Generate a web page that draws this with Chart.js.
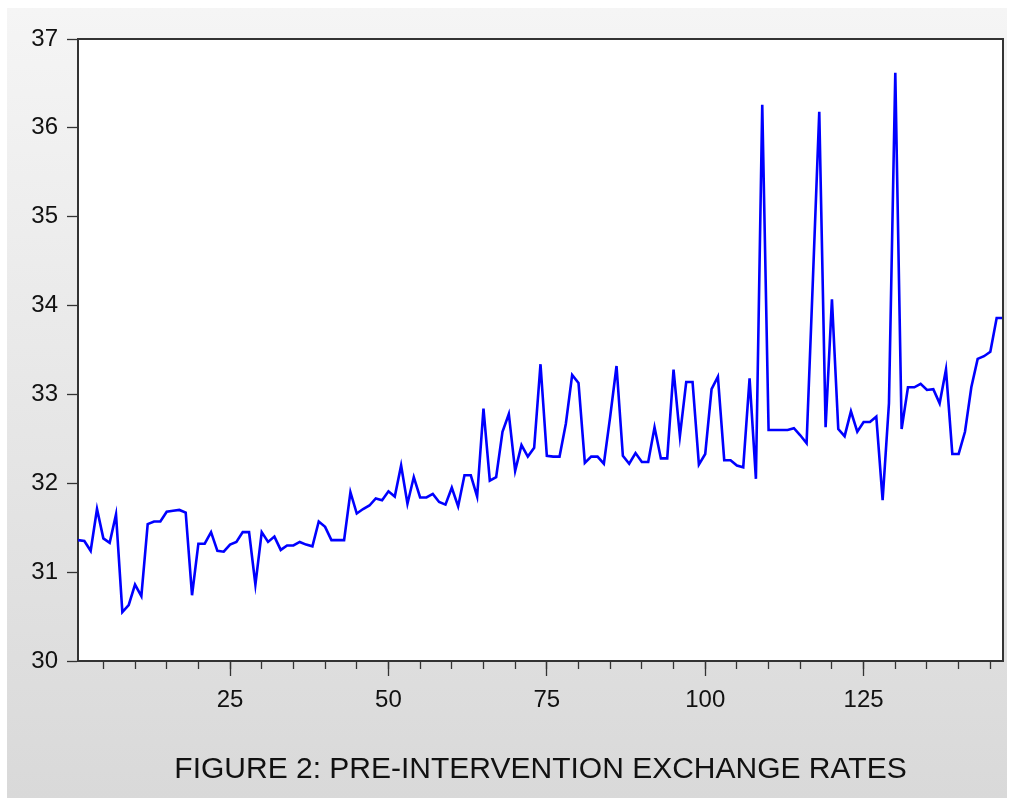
<!DOCTYPE html>
<html>
<head>
<meta charset="utf-8">
<script src="https://cdn.jsdelivr.net/npm/chart.js@4.4.1/dist/chart.umd.min.js"></script>
<style>
  html, body { margin: 0; padding: 0; background: #ffffff; }
  #wrap { position: relative; width: 1010px; height: 798px; }
</style>
</head>
<body>
<div id="wrap"><canvas id="c" width="1010" height="798"></canvas></div>
<script>
// Observation numbers (1..147)
const observations = Array.from({ length: 147 }, (_, i) => i + 1);

// Exchange rate values
const exchangeRates = [
  31.36, 31.35, 31.24, 31.71, 31.38, 31.33, 31.65, 30.55, 30.63, 30.86,
  30.73, 31.54, 31.57, 31.57, 31.68, 31.69, 31.70, 31.67, 30.74, 31.32,
  31.32, 31.45, 31.24, 31.23, 31.31, 31.34, 31.45, 31.45, 30.86, 31.45,
  31.34, 31.40, 31.25, 31.30, 31.30, 31.34, 31.31, 31.29, 31.57, 31.51,
  31.36, 31.36, 31.36, 31.90, 31.66, 31.71, 31.75, 31.83, 31.81, 31.91,
  31.85, 32.20, 31.77, 32.07, 31.84, 31.84, 31.88, 31.79, 31.76, 31.95,
  31.74, 32.09, 32.09, 31.85, 32.84, 32.03, 32.07, 32.58, 32.78, 32.14,
  32.43, 32.30, 32.40, 33.34, 32.31, 32.30, 32.30, 32.67, 33.22, 33.13,
  32.23, 32.30, 32.30, 32.22, 32.75, 33.32, 32.31, 32.22, 32.34, 32.24,
  32.24, 32.63, 32.28, 32.28, 33.28, 32.53, 33.14, 33.14, 32.21, 32.33,
  33.06, 33.20, 32.26, 32.26, 32.20, 32.18, 33.18, 32.05, 36.26, 32.60,
  32.60, 32.60, 32.60, 32.62, 32.54, 32.45, 34.30, 36.18, 32.63, 34.07,
  32.61, 32.53, 32.81, 32.58, 32.69, 32.69, 32.75, 31.81, 32.90, 36.62,
  32.61, 33.08, 33.08, 33.12, 33.05, 33.06, 32.90, 33.28, 32.33, 32.33,
  32.58, 33.08, 33.40, 33.43, 33.48, 33.86, 33.86
];

// Axis settings
const xMin = 1, xMax = 147;
const xMinorStep = 5, xMajorStep = 25;
const yMin = 30, yMax = 37, yStep = 1;
const titleText = 'FIGURE 2: PRE-INTERVENTION EXCHANGE RATES';

const FONT = '"Liberation Sans", Arial, "DejaVu Sans", sans-serif';
const AXIS_COLOR = '#333333';

const backgroundPlugin = {
  id: 'panelBackground',
  beforeDraw(chart) {
    const ctx = chart.ctx;
    ctx.save();
    ctx.fillStyle = '#ffffff';
    ctx.fillRect(0, 0, chart.width, chart.height);
    const g = ctx.createLinearGradient(0, 8, 0, chart.height);
    g.addColorStop(0, '#f5f5f5');
    g.addColorStop(1, '#d9d9d9');
    ctx.fillStyle = g;
    ctx.fillRect(7, 8, 1000, chart.height - 8);
    const a = chart.chartArea;
    ctx.fillStyle = '#ffffff';
    ctx.fillRect(a.left, a.top, a.right - a.left, a.bottom - a.top);
    ctx.restore();
  },
  afterDraw(chart) {
    const ctx = chart.ctx;
    const a = chart.chartArea;
    ctx.save();
    ctx.strokeStyle = AXIS_COLOR;
    ctx.lineWidth = 2;
    ctx.beginPath();
    ctx.moveTo(a.left, a.top);
    ctx.lineTo(a.right, a.top);
    ctx.lineTo(a.right, a.bottom);
    ctx.stroke();
    ctx.restore();
  }
};

new Chart(document.getElementById('c'), {
  type: 'line',
  data: {
    datasets: [{
      data: observations.map((o, i) => ({ x: o, y: exchangeRates[i] })),
      borderColor: '#0000ff',
      borderWidth: 2.6,
      pointRadius: 0,
      tension: 0,
      fill: false,
      xAxisID: 'x',
      yAxisID: 'y'
    }]
  },
  options: {
    responsive: false,
    animation: false,
    devicePixelRatio: 1,
    layout: { padding: { top: 39, right: 7, left: 0, bottom: 0 } },
    plugins: {
      legend: { display: false },
      tooltip: { enabled: false },
      title: { display: false }
    },
    scales: {
      x: {
        type: 'linear',
        position: 'bottom',
        weight: 0,
        min: xMin,
        max: xMax,
        ticks: { stepSize: xMinorStep, includeBounds: false, callback: () => '', padding: 0, font: { size: 1 } },
        grid: { display: true, drawOnChartArea: false, drawTicks: true, tickLength: 8, tickColor: AXIS_COLOR, tickWidth: 1.3 },
        border: { display: true, color: AXIS_COLOR, width: 2 },
        afterFit(scale) { scale.height = 0; }
      },
      x2: {
        type: 'linear',
        position: 'bottom',
        weight: 1,
        min: xMin,
        max: xMax,
        ticks: { stepSize: xMajorStep, includeBounds: false, color: '#111111', padding: 10, maxRotation: 0, font: { family: FONT, size: 24 } },
        grid: { display: true, drawOnChartArea: false, drawTicks: true, tickLength: 15, tickColor: AXIS_COLOR, tickWidth: 1.3 },
        border: { display: false },
        title: {
          display: true,
          text: titleText,
          color: '#111111',
          font: { family: FONT, size: 30, weight: 'normal' },
          padding: { top: 0, bottom: 10 }
        },
        afterFit(scale) { scale.height = 137; }
      },
      y: {
        type: 'linear',
        position: 'left',
        min: yMin,
        max: yMax,
        ticks: { stepSize: yStep, color: '#111111', padding: 9, font: { family: FONT, size: 24 } },
        grid: { display: true, drawOnChartArea: false, drawTicks: true, tickLength: 11, tickColor: AXIS_COLOR, tickWidth: 1.3 },
        border: { display: true, color: AXIS_COLOR, width: 2 },
        afterFit(scale) { scale.width = 78; }
      }
    }
  },
  plugins: [backgroundPlugin]
});
</script>
</body>
</html>
